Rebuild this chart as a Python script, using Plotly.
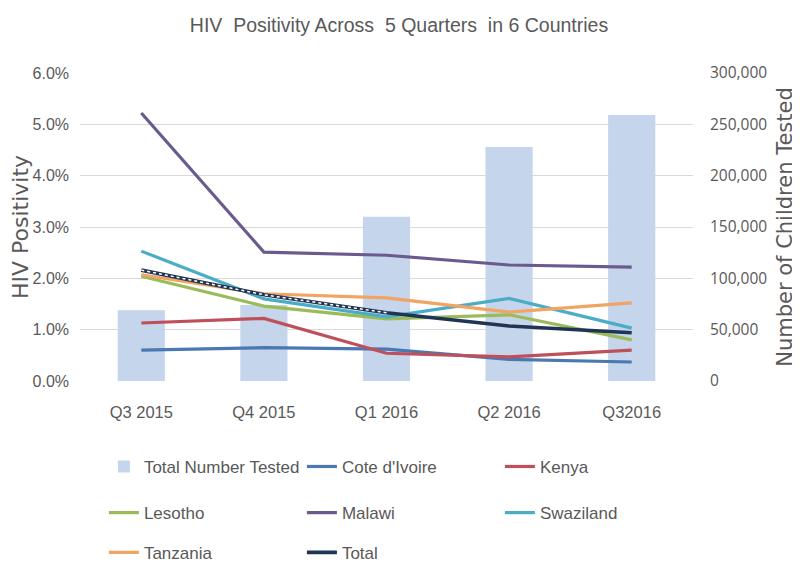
import plotly.graph_objects as go

quarters = ["Q3 2015", "Q4 2015", "Q1 2016", "Q2 2016", "Q32016"]
total_tested = [69000, 74000, 160000, 228000, 259000]

cote_divoire = [0.0060, 0.0065, 0.0062, 0.0042, 0.0037]
kenya = [0.0113, 0.0122, 0.0054, 0.0047, 0.0060]
lesotho = [0.0204, 0.0146, 0.0121, 0.0129, 0.0080]
malawi = [0.0522, 0.0251, 0.0245, 0.0226, 0.0222]
swaziland = [0.0253, 0.0160, 0.0125, 0.0161, 0.0103]
tanzania = [0.0207, 0.0170, 0.0162, 0.0134, 0.0152]
total = [0.0216, 0.0168, 0.0133, 0.0107, 0.0094]

series = [
    ("Cote d'Ivoire", cote_divoire, "#4a78b0", "legend"),
    ("Kenya", kenya, "#bf4f5a", "legend"),
    ("Lesotho", lesotho, "#9bbb59", "legend2"),
    ("Malawi", malawi, "#6b5a8e", "legend2"),
    ("Swaziland", swaziland, "#4bacc6", "legend2"),
    ("Tanzania", tanzania, "#f2a463", "legend3"),
    ("Total", total, "#1f3553", "legend3"),
]

FONT_N = "Liberation Sans, Arial, sans-serif"
FONT_W = "DejaVu Sans, sans-serif"
GRAY = "#595959"

fig = go.Figure()
fig.add_trace(go.Bar(
    x=quarters, y=total_tested, name="Total Number Tested",
    marker=dict(color="#c5d5eb", line=dict(width=0)),
    width=0.385, yaxis="y", legend="legend",
))
for name, vals, color, lg in series:
    fig.add_trace(go.Scatter(
        x=quarters, y=vals, name=name, mode="lines",
        line=dict(color=color, width=3.2 if name != "Total" else 3.6),
        yaxis="y2", legend=lg,
    ))
# dotted highlight along the Total line
fig.add_trace(go.Scatter(
    x=quarters[:3], y=total[:3], mode="lines", showlegend=False,
    line=dict(color="white", width=1.5, dash="dot"), yaxis="y2",
    hoverinfo="skip",
))

legend_common = dict(
    orientation="h", xanchor="left", yanchor="middle",
    entrywidth=153, entrywidthmode="pixels",
    font=dict(family=FONT_N, size=17, color=GRAY),
    bgcolor="rgba(0,0,0,0)", itemwidth=30,
)

fig.update_layout(
    width=792, height=565,
    margin=dict(l=72, r=107, t=65, b=192, autoexpand=False),
    paper_bgcolor="white", plot_bgcolor="white",
    title=dict(text="HIV  Positivity Across  5 Quarters  in 6 Countries",
               x=0.4937, xanchor="center", y=0.970, yanchor="middle",
               font=dict(family=FONT_N, size=19.5, color=GRAY)),
    xaxis=dict(
        type="category", showgrid=False, showline=False, ticks="",
        automargin=False, ticklabelstandoff=19,
        tickfont=dict(family=FONT_N, size=16.5, color=GRAY),
    ),
    yaxis=dict(
        side="right", range=[0, 300000], dtick=50000, tickformat=",",
        showgrid=True, gridcolor="#d9d9d9", gridwidth=1.3,
        zeroline=False, showline=False, automargin=False,
        ticklabelstandoff=16,
        tickfont=dict(family="Open Sans, sans-serif", size=15.5, color=GRAY),
        title=dict(text="Number of Children Tested", standoff=10,
                   font=dict(family=FONT_W, size=21, color=GRAY)),
    ),
    yaxis2=dict(
        overlaying="y", side="left", range=[0, 0.06], dtick=0.01,
        tickformat=".1%", showgrid=False, zeroline=False, showline=False,
        automargin=False, ticklabelstandoff=10,
        tickfont=dict(family=FONT_N, size=16, color=GRAY),
        title=dict(text="HIV Positivity", standoff=6,
                   font=dict(family=FONT_W, size=22, color=GRAY)),
    ),
    legend=dict(x=0.039, y=-0.279, **legend_common),
    legend2=dict(x=0.039, y=-0.429, **legend_common),
    legend3=dict(x=0.039, y=-0.558, **legend_common),
    showlegend=True,
)

fig.write_html("out.html")
